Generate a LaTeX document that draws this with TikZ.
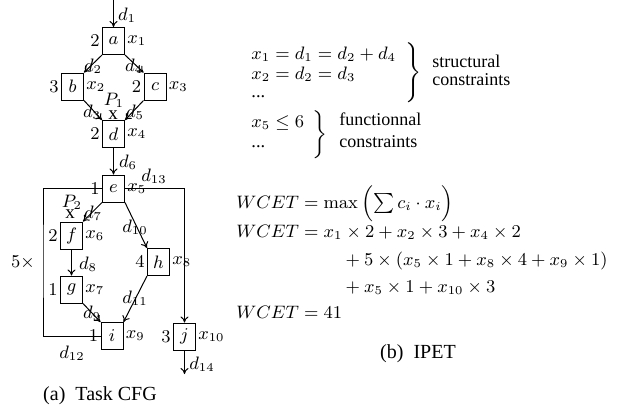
\documentclass[tikz,border=0pt]{standalone}
\usepackage[no-math]{fontspec}
\setmainfont{Liberation Serif}
\usetikzlibrary{arrows.meta}
\begin{document}
\begin{tikzpicture}[x=0.5pt,y=-0.5pt,
  every node/.style={font=\fontsize{9.2}{11}\selectfont},
  blk/.style={draw, line width=0.5pt, minimum width=11pt, minimum height=13.5pt, inner sep=0pt},
  lbl/.style={inner sep=1pt},
  arr/.style={-{To[length=3pt,width=4pt]}, line width=0.5pt},
  ln/.style={line width=0.5pt},
  eq/.style={anchor=base west, inner sep=0pt},
  txt/.style={anchor=base west, inner sep=0pt, font=\fontsize{9}{11}\selectfont},
  captxt/.style={inner sep=0pt, font=\fontsize{10}{12}\selectfont},
  elab/.style={inner sep=0pt}
]
\useasboundingbox (0,0) rectangle (640,413);
% blocks
\node[blk, label={[lbl]left:$2$}, label={[lbl]right:$x_1$}] (a) at (113.5,41) {$a$};
\node[blk, label={[lbl]left:$3$}, label={[lbl]right:$x_2$}] (b) at (72.5,86.5) {$b$};
\node[blk, label={[lbl]left:$2$}, label={[lbl]right:$x_3$}] (c) at (155,86.5) {$c$};
\node[blk, label={[lbl]left:$2$}, label={[lbl]right:$x_4$}] (d) at (113.5,134) {$d$};
\node[blk, label={[lbl]left:$1$}, label={[lbl]right:$x_5$}] (e) at (113.5,188.5) {$e$};
\node[blk, label={[lbl]left:$2$}, label={[lbl]right:$x_6$}] (f) at (71.5,235.5) {$f$};
\node[blk, label={[lbl]left:$1$}, label={[lbl]right:$x_7$}] (g) at (71.5,289.5) {$g$};
\node[blk, label={[lbl]left:$4$}, label={[lbl]right:$x_8$}] (h) at (158.5,262) {$h$};
\node[blk, label={[lbl]left:$1$}, label={[lbl]right:$x_9$}] (i) at (112,336) {$i$};
\node[blk, label={[lbl]left:$3$}, label={[lbl]right:$x_{10}$}] (j) at (184.5,336.5) {$j$};
% connectors
\coordinate (top) at (113.5,0);
\coordinate (L) at (43,260);
\coordinate (bot) at (184.5,374);
\draw[arr] (top) -- (a);
\draw[arr] (a.south west) -- (b.north east);
\draw[arr] (a.south east) -- (c.north west);
\draw[arr] (b.south east) -- (d.north west);
\draw[arr] (c.south west) -- (d.north east);
\draw[arr] (d) -- (e);
\draw[arr] (e.south west) -- (f.north east);
\draw[arr] (e.south east) -- (h.north west);
\draw[arr] (f) -- (g);
\draw[arr] (g.south east) -- (i.north west);
\draw[arr] (h.south west) -- (i.north east);
\draw[arr] (e.east) -| (j.north);
\draw[ln] (i.west) -| (L) |- (e.west);
\draw[arr] (j) -- (bot);
% edge labels
\node[elab] at (127,15) {$d_1$};
\node[elab] at (93,66) {$d_2$};
\node[elab] at (134,66) {$d_4$};
\node[elab] at (92,112) {$d_3$};
\node[elab] at (135,112) {$d_5$};
\node[elab] at (114,100) {$P_1$};
\node[elab, font=\fontsize{9.5}{11}\selectfont\rmfamily] at (113,115) {x};
\node[elab] at (128,162) {$d_6$};
\node[elab] at (154,176) {$d_{13}$};
\node[elab] at (72,202) {$P_2$};
\node[elab, font=\fontsize{9.5}{11}\selectfont\rmfamily] at (70,214) {x};
\node[elab] at (93,213) {$d_7$};
\node[elab] at (135,227) {$d_{10}$};
\node[elab] at (88,264) {$d_8$};
\node[elab] at (23,263) {$5\times$};
\node[elab] at (135,298) {$d_{11}$};
\node[elab] at (92,313) {$d_9$};
\node[elab] at (72,353) {$d_{12}$};
\node[elab] at (202,364) {$d_{14}$};
\node[captxt] at (100,396) {(a)\hskip 5pt Task CFG};
% constraints
\node[eq] at (251,59) {$x_1 = d_1 = d_2 + d_4$};
\node[eq] at (251,79) {$x_2 = d_2 = d_3$};
\node[eq] at (251,97) {...};
\node[inner sep=0pt] at (412,73.5) {$\left.\vrule height 14pt depth 14pt width 0pt\right\}$};
\node[txt] at (432,67) {structural};
\node[txt] at (432,85) {constraints};
\node[eq] at (251,127) {$x_5 \leq 6$};
\node[eq] at (251,147) {...};
\node[inner sep=0pt] at (319,134.5) {$\left.\vrule height 9.5pt depth 9.5pt width 0pt\right\}$};
\node[txt] at (339,125) {functionnal};
\node[txt] at (339,147) {constraints};
% WCET
\node[eq] at (236,208) {$WCET = \max\,\Bigl(\sum c_i\cdot x_i\Bigr)$};
\node[eq] at (236,237) {$WCET = x_1\times 2 + x_2\times 3 + x_4\times 2$};
\node[eq] at (341,265) {${} + 5\times(x_5\times 1 + x_8\times 4 + x_9\times 1)$};
\node[eq] at (341,292) {${} + x_5\times 1 + x_{10}\times 3$};
\node[eq] at (236,318) {$WCET = 41$};
\node[captxt] at (418,354) {(b)\hskip 5pt IPET};
\end{tikzpicture}
\end{document}
